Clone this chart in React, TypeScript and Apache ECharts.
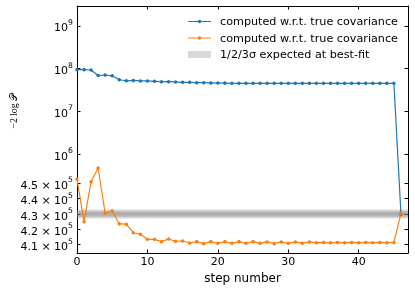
import React, { useEffect, useRef } from "react";
import * as echarts from "echarts";

const steps = [0,1,2,3,4,5,6,7,8,9,10,11,12,13,14,15,16,17,18,19,20,21,22,23,24,25,26,27,28,29,30,31,32,33,34,35,36,37,38,39,40,41,42,43,44,45,46];

const blueValues = [
  9.5e7, 9.5e7, 9.3e7, 6.9e7, 7.1e7, 6.8e7, 5.5e7, 5.2e7, 5.3e7, 5.15e7,
  5.15e7, 5.05e7, 4.96e7, 4.96e7, 4.88e7, 4.78e7, 4.78e7, 4.7e7, 4.7e7, 4.62e7,
  4.62e7, 4.58e7, 4.53e7, 4.53e7, 4.53e7, 4.53e7, 4.53e7, 4.53e7, 4.53e7, 4.53e7,
  4.53e7, 4.53e7, 4.53e7, 4.53e7, 4.53e7, 4.53e7, 4.53e7, 4.53e7, 4.53e7, 4.53e7,
  4.53e7, 4.53e7, 4.53e7, 4.53e7, 4.53e7, 4.53e7, 4.3e5,
];

const orangeValues = [
  5.02e5, 4.25e5, 4.7e5, 6.83e5, 4.305e5, 4.32e5, 4.237e5, 4.233e5, 4.178e5, 4.168e5,
  4.135e5, 4.135e5, 4.12e5, 4.137e5, 4.122e5, 4.124e5, 4.111e5, 4.12e5, 4.107e5, 4.12e5,
  4.109e5, 4.12e5, 4.109e5, 4.12e5, 4.109e5, 4.12e5, 4.109e5, 4.118e5, 4.107e5, 4.118e5,
  4.109e5, 4.118e5, 4.109e5, 4.118e5, 4.112e5, 4.115e5, 4.112e5, 4.115e5, 4.113e5, 4.115e5,
  4.113e5, 4.115e5, 4.113e5, 4.115e5, 4.113e5, 4.115e5, 4.305e5,
];

const bandCenter = 4.3e5;
const bandHalfWidths = [1e3, 2e3, 3e3];

const yTickValues = [1e9, 1e8, 1e7, 1e6, 4.5e5, 4.4e5, 4.3e5, 4.2e5, 4.1e5];
const yTickLabels = [
  "{b|10}{sup|9}", "{b|10}{sup|8}", "{b|10}{sup|7}", "{b|10}{sup|6}",
  "{b|4.5 × 10}{sup|5}", "{b|4.4 × 10}{sup|5}", "{b|4.3 × 10}{sup|5}",
  "{b|4.2 × 10}{sup|5}", "{b|4.1 × 10}{sup|5}",
];
const xTickValues = [0, 10, 20, 30, 40];

const NAME_BLUE = "computed w.r.t. true covariance";
const NAME_ORANGE = "computed w.r.t. true covariance\u200b";
const NAME_BAND = "1/2/3σ expected at best-fit";

// custom axis scale: log above 1e6, linear below 4.5e5, log-interpolated between
function T(v: number): number {
  if (v >= 1e6) return 99 + (Math.log10(v) - 6) * 42.67;
  if (v <= 4.5e5) return 8.3 + ((v - 4.1e5) / 1e4) * 15.35;
  const f = Math.log10(v / 4.5e5) / Math.log10(1e6 / 4.5e5);
  return 69.7 + f * (99 - 69.7);
}

const FONT = "DejaVu Sans";
const LINE_ICON = "path://M0,2.9h23v1.2h-23z M13.25,3.5a1.75,1.75 0 1,1 -3.5,0a1.75,1.75 0 1,1 3.5,0z";

export default function App() {
  const ref = useRef<HTMLDivElement>(null);
  useEffect(() => {
    if (!ref.current) return;
    const chart = echarts.init(ref.current, null, { renderer: "svg" });
    const yTickPos = yTickValues.map(T);
    const axisLine = { show: true, onZero: false, lineStyle: { color: "#000", width: 1 } };
    const tick = { show: true, inside: true, length: 3.5, lineStyle: { color: "#000", width: 1 } };
    const grey = "rgba(128,128,128,0.3)";
    chart.setOption({
      animation: false,
      grid: { left: 77, right: 7, top: 6, bottom: 37, containLabel: false },
      legend: {
        orient: "vertical",
        left: 183,
        top: 11,
        itemWidth: 23,
        itemHeight: 7,
        itemGap: 5.5,
        symbolKeepAspect: true,
        textStyle: { fontSize: 11.2, fontFamily: FONT, color: "#000", padding: [0, 0, 0, 4] },
        formatter: (n: string) => n.replace(/\u200b/g, ""),
        data: [
          { name: NAME_BLUE, icon: LINE_ICON, itemStyle: { color: "#1f77b4", borderWidth: 0 } },
          { name: NAME_ORANGE, icon: LINE_ICON, itemStyle: { color: "#ff7f0e", borderWidth: 0 } },
          { name: NAME_BAND, icon: "rect", itemStyle: { color: grey } },
        ],
      },
      xAxis: [
        {
          type: "value", min: 0, max: 47, position: "bottom",
          axisLine, axisTick: { ...tick, customValues: xTickValues },
          axisLabel: { customValues: xTickValues, fontSize: 11, fontFamily: FONT, color: "#000", margin: 3 },
          splitLine: { show: false },
          name: "step number", nameLocation: "middle", nameGap: 13,
          nameTextStyle: { fontSize: 12, fontFamily: FONT, color: "#000" },
        },
        {
          type: "value", min: 0, max: 47, position: "top",
          axisLine, axisTick: { ...tick, customValues: xTickValues },
          axisLabel: { show: false }, splitLine: { show: false },
        },
      ],
      yAxis: [
        {
          type: "value", min: 0, max: 247, position: "left",
          axisLine, axisTick: { ...tick, customValues: yTickPos },
          axisLabel: {
            customValues: yTickPos,
            margin: 4,
            color: "#000",
            formatter: (val: number) => {
              let best = 0;
              yTickPos.forEach((p, i) => { if (Math.abs(p - val) < Math.abs(yTickPos[best] - val)) best = i; });
              return yTickLabels[best];
            },
            rich: {
              b: { fontSize: 11, fontFamily: FONT, color: "#000", lineHeight: 15, verticalAlign: "bottom" },
              sup: { fontSize: 7.7, fontFamily: FONT, color: "#000", lineHeight: 10, verticalAlign: "top" },
            },
          },
          splitLine: { show: false },
        },
        {
          type: "value", min: 0, max: 247, position: "right",
          axisLine, axisTick: { ...tick, customValues: yTickPos },
          axisLabel: { show: false }, splitLine: { show: false },
        },
      ],
      series: [
        {
          name: NAME_BAND, type: "line", data: [], z: 1,
          itemStyle: { color: grey },
          markArea: {
            silent: true,
            itemStyle: { color: grey },
            data: bandHalfWidths.map((h) => [
              { yAxis: T(bandCenter - h), x: 77 },
              { yAxis: T(bandCenter + h), x: 408 },
            ]),
          },
        },
        {
          name: NAME_BLUE, type: "line", z: 3,
          data: steps.map((s, i) => [s, T(blueValues[i])]),
          symbol: "circle", symbolSize: 3.5, showSymbol: true,
          lineStyle: { color: "#1f77b4", width: 1.2 },
          itemStyle: { color: "#1f77b4" },
        },
        {
          name: NAME_ORANGE, type: "line", z: 3,
          data: steps.map((s, i) => [s, T(orangeValues[i])]),
          symbol: "circle", symbolSize: 3.5, showSymbol: true,
          lineStyle: { color: "#ff7f0e", width: 1.2 },
          itemStyle: { color: "#ff7f0e" },
        },
      ],
      graphic: [
        {
          type: "text", x: 13, y: 111.5, rotation: Math.PI / 2,
          style: {
            text: "−2\u2009log\u2009𝒫", fontSize: 10, fontFamily: "Liberation Serif",
            fill: "#000", align: "center", verticalAlign: "middle",
          },
        },
      ],
    });
    return () => chart.dispose();
  }, []);
  return <div ref={ref} style={{ position: "fixed", left: 0, top: 0, width: 415, height: 290 }} />;
}
